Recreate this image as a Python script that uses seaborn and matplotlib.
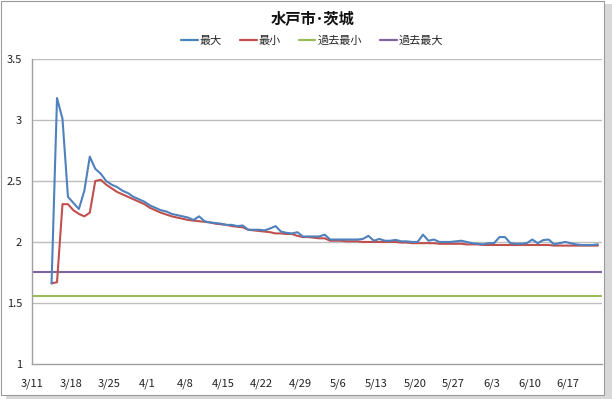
import matplotlib
matplotlib.use("Agg")
import matplotlib.pyplot as plt
import matplotlib.patches as mpatches
from matplotlib.lines import Line2D
import seaborn as sns
import pandas as pd

# ---- data ----
title = "水戸市･茨城"
series_names = ["最大", "最小", "過去最小", "過去最大"]
start_date = "2011-03-14"
max_vals = [1.66, 3.18, 3.01, 2.37, 2.32, 2.27, 2.42, 2.70, 2.60, 2.56,
            2.50, 2.47, 2.45, 2.42, 2.40, 2.37, 2.35, 2.33, 2.30, 2.28,
            2.26, 2.25, 2.23, 2.22, 2.21, 2.20, 2.18, 2.21, 2.17, 2.16,
            2.155, 2.15, 2.14, 2.14, 2.13, 2.135, 2.10, 2.10, 2.10, 2.095,
            2.11, 2.13, 2.085, 2.075, 2.07, 2.08, 2.045, 2.045, 2.045, 2.045,
            2.06, 2.02, 2.02, 2.02, 2.02, 2.02, 2.02, 2.025, 2.05, 2.01,
            2.025, 2.01, 2.01, 2.017, 2.005, 2.005, 2.0, 2.0, 2.06, 2.01,
            2.02, 2.0, 2.0, 2.0, 2.005, 2.01, 2.0, 1.99, 1.985, 1.98,
            1.99, 1.99, 2.04, 2.04, 1.99, 1.985, 1.985, 1.99, 2.02, 1.99,
            2.015, 2.02, 1.98, 1.99, 2.0, 1.99, 1.98, 1.975, 1.975, 1.975,
            1.98]
min_vals = [1.66, 1.67, 2.31, 2.31, 2.26, 2.23, 2.21, 2.24, 2.50, 2.51,
            2.47, 2.44, 2.41, 2.39, 2.37, 2.35, 2.33, 2.31, 2.28, 2.26,
            2.24, 2.225, 2.21, 2.20, 2.19, 2.18, 2.175, 2.17, 2.165, 2.16,
            2.15, 2.145, 2.14, 2.13, 2.125, 2.12, 2.10, 2.095, 2.09, 2.085,
            2.08, 2.07, 2.07, 2.065, 2.065, 2.05, 2.04, 2.04, 2.035, 2.03,
            2.03, 2.01, 2.01, 2.01, 2.005, 2.005, 2.005, 2.0, 2.0, 2.0,
            2.0, 2.0, 2.0, 2.0, 1.995, 1.995, 1.99, 1.99, 1.99, 1.99,
            1.99, 1.985, 1.985, 1.985, 1.985, 1.985, 1.98, 1.98, 1.98, 1.975,
            1.975, 1.975, 1.975, 1.975, 1.975, 1.975, 1.975, 1.975, 1.975, 1.975,
            1.975, 1.975, 1.97, 1.97, 1.97, 1.97, 1.97, 1.97, 1.97, 1.97,
            1.97]
past_min = 1.56
past_max = 1.75
axis_start = "2011-03-11"
x_tick_labels = ["3/11", "3/18", "3/25", "4/1", "4/8", "4/15", "4/22", "4/29",
                 "5/6", "5/13", "5/20", "5/27", "6/3", "6/10", "6/17"]
y_ticks = [1, 1.5, 2, 2.5, 3, 3.5]

colors = ["#4F81BD", "#C0504D", "#9BBB59", "#8064A2"]

# ---- build frame ----
dates = pd.date_range(start_date, periods=len(max_vals), freq="D")
x0 = pd.Timestamp(axis_start)
xpos = (dates - x0).days + 0.5
df = pd.DataFrame({
    "x": list(xpos) * 2,
    "value": max_vals + min_vals,
    "series": [series_names[0]] * len(max_vals) + [series_names[1]] * len(min_vals),
})

sns.set_style("white")
plt.rcParams["font.family"] = ["Noto Sans CJK JP", "DejaVu Sans"]

fig = plt.figure(figsize=(6.12, 3.99), dpi=100)
ax = fig.add_axes([0.053, 0.088, 0.931, 0.764])

for v in y_ticks[1:]:
    ax.axhline(v, color="#bdbdbd", lw=1.0, zorder=0)

ax.axhline(past_min, color=colors[2], lw=1.5, zorder=2)
ax.axhline(past_max, color=colors[3], lw=1.5, zorder=2)

sns.lineplot(data=df, x="x", y="value", hue="series",
             palette={series_names[0]: colors[0], series_names[1]: colors[1]},
             hue_order=[series_names[1], series_names[0]],
             linewidth=1.5, ax=ax, legend=False, zorder=3)

ax.set_xlim(0, 104.3)
ax.set_ylim(1, 3.5)
ax.set_xticks([7 * i for i in range(len(x_tick_labels))])
ax.set_xticklabels(x_tick_labels)
ax.set_yticks(y_ticks)
ax.set_yticklabels([f"{t:g}" for t in y_ticks])
ax.set_xlabel("")
ax.set_ylabel("")
ax.tick_params(axis="both", labelsize=8, colors="#333333", length=3.5,
               width=0.8, direction="out", pad=6)
ax.tick_params(axis="x", colors="#a0a0a0", labelcolor="#222222", pad=7)
ax.tick_params(axis="y", colors="#a0a0a0", labelcolor="#222222", pad=4)
for s in ["top", "right"]:
    ax.spines[s].set_visible(False)
for s in ["left", "bottom"]:
    ax.spines[s].set_color("#a0a0a0")
    ax.spines[s].set_linewidth(1.0)

fig.text(0.51, 0.955, title, ha="center", va="center", fontsize=11,
         fontweight="bold", color="#111111")

handles = [Line2D([0], [0], color=c, lw=1.6) for c in colors]
fig.legend(handles, series_names, loc="center", bbox_to_anchor=(0.51, 0.898),
           ncol=4, frameon=False, fontsize=8, handlelength=1.5,
           handletextpad=0.2, columnspacing=1.6)

# chart area border/shadow
fig.patches.append(mpatches.Rectangle((0.002, 0.01), 0.985, 0.988,
                   transform=fig.transFigure, fill=False,
                   edgecolor="#9a9a9a", lw=0.8, zorder=-1))
fig.patches.append(mpatches.Rectangle((0.988, 0.0), 0.012, 0.99,
                   transform=fig.transFigure, facecolor="#d8d8d8",
                   edgecolor="none", zorder=-2))
fig.patches.append(mpatches.Rectangle((0.01, 0.0), 0.99, 0.01,
                   transform=fig.transFigure, facecolor="#d8d8d8",
                   edgecolor="none", zorder=-2))

fig.savefig("out.png", dpi=100)
